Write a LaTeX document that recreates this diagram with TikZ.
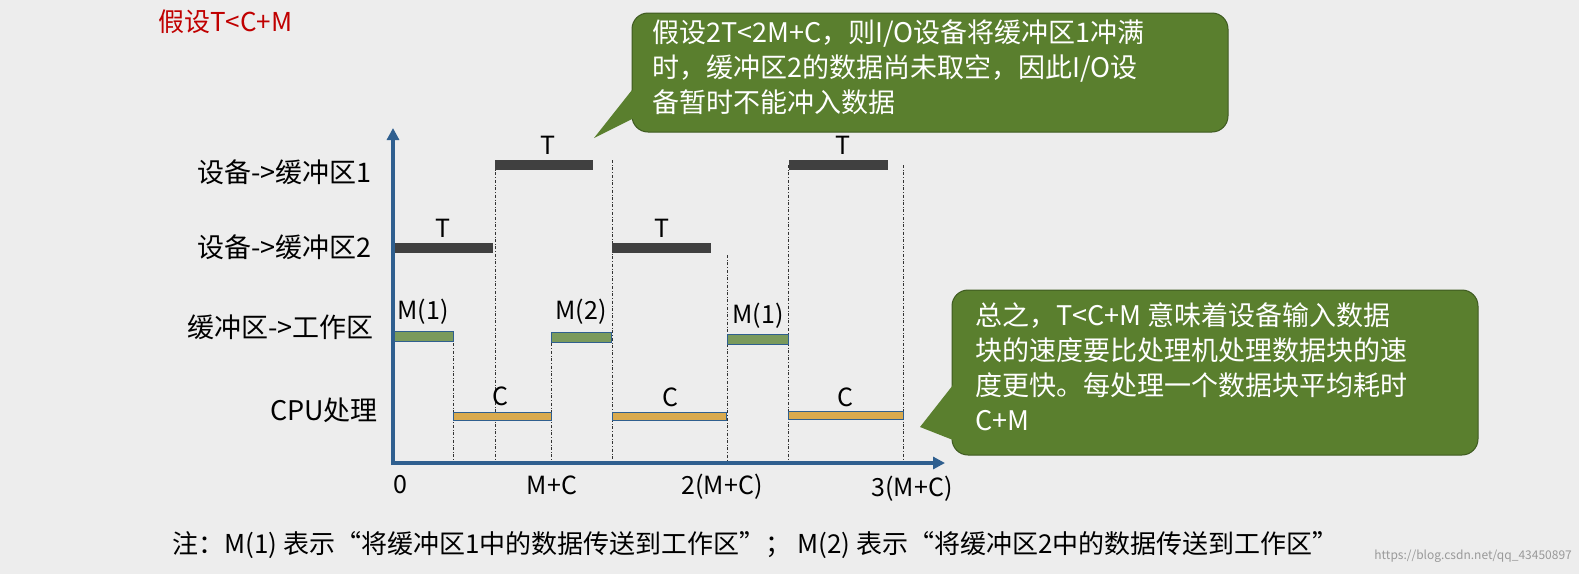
\documentclass[tikz,border=0pt]{standalone}
\usepackage{fontspec}
\setmainfont{Noto Sans CJK SC}
\usetikzlibrary{arrows.meta}
\definecolor{bg}{HTML}{EDEDED}
\definecolor{axisblue}{HTML}{2F5F8F}
\definecolor{darkbar}{HTML}{404040}
\definecolor{greenbar}{HTML}{7A9A5C}
\definecolor{orangebar}{HTML}{D9AA4E}
\definecolor{callout}{HTML}{5A7F2E}
\definecolor{calloutborder}{HTML}{3E5A20}
\definecolor{titlered}{HTML}{C00000}
\begin{document}
\begin{tikzpicture}[x=1pt,y=-1pt,
  lab/.style={font=\fontsize{27}{30}\selectfont,anchor=east,inner sep=0},
  tl/.style={font=\fontsize{25}{28}\selectfont,inner sep=0},
  dbar/.style={fill=darkbar,draw=none},
  gbar/.style={fill=greenbar,draw=axisblue,line width=0.6pt},
  obar/.style={fill=orangebar,draw=axisblue,line width=0.6pt},
  guide/.style={dash dot,line width=0.6pt,black!80},
  ctext/.style={font=\fontsize{27}{35}\selectfont,text=white,align=left,anchor=north west,inner sep=0}]
\fill[bg] (0,0) rectangle (1579,574);
\useasboundingbox (0,0) rectangle (1579,574);
\node[font=\fontsize{26}{28}\selectfont,text=titlered,anchor=west,inner sep=0] (title) at (158,22) {假设T<C+M};
% guides
\foreach \x/\y in {453/336,495/165,551/336,612/160,727/255,788/165,903/165}
  \draw[guide] (\x,\y) -- (\x,463);
% bars
\fill[dbar] (495,160) rectangle (593,170);
\fill[dbar] (789,160) rectangle (888,170);
\fill[dbar] (393,243) rectangle (493,253);
\fill[dbar] (612,243) rectangle (711,253);
\filldraw[gbar] (393,331) rectangle (453,341);
\filldraw[gbar] (551,332) rectangle (611,342);
\filldraw[gbar] (727,334) rectangle (788,344);
\filldraw[obar] (453,412) rectangle (551,420);
\filldraw[obar] (612,412) rectangle (726,420);
\filldraw[obar] (788,411) rectangle (903,419);
% bar labels
\node[tl] (t1) at (548,145) {T};
\node[tl] (t2) at (843,145) {T};
\node[tl] (t3) at (443,228) {T};
\node[tl] (t4) at (662,228) {T};
\node[tl] (m1) at (423,312) {M(1)};
\node[tl] (m2) at (581,312) {M(2)};
\node[tl] (m3) at (758,316) {M(1)};
\node[tl] (c1) at (500,396) {C};
\node[tl] (c2) at (670,397) {C};
\node[tl] (c3) at (845,397) {C};
% axes
\draw[axisblue,line width=4pt,-{Triangle[length=12pt,width=12pt]}] (393,465) -- (393,128);
\draw[axisblue,line width=4pt,-{Triangle[length=12pt,width=12pt]}] (391,463) -- (945,463);
% row labels
\node[lab] (r1) at (372,172) {设备->缓冲区1};
\node[lab] (r2) at (372,247) {设备->缓冲区2};
\node[lab] (r3) at (374,327) {缓冲区->工作区};
\node[lab] (r4) at (378,410) {CPU处理};
% x labels
\node[tl] (x0) at (400,485) {0};
\node[tl] (x1) at (552,485) {M+C};
\node[tl] (x2) at (722,487) {2(M+C)};
\node[tl] (x3) at (912,489) {3(M+C)};
% callout 1
\draw[fill=callout,draw=calloutborder,line width=1pt,rounded corners=16pt]
  (632,13) rectangle (1228,132);
\fill[callout] (632,90) -- (594,138) -- (650,110) -- cycle;
\node[ctext] (cb1) at (652,20) {假设2T<2M+C，则I/O设备将缓冲区1冲满\\时，缓冲区2的数据尚未取空，因此I/O设\\备暂时不能冲入数据};
% callout 2
\draw[fill=callout,draw=calloutborder,line width=1pt,rounded corners=16pt]
  (952,290) rectangle (1478,455);
\fill[callout] (953,385) -- (920,427) -- (953,440) -- cycle;
\node[ctext] (cb2) at (975,302) {总之，T<C+M 意味着设备输入数据\\块的速度要比处理机处理数据块的速\\度更快。每处理一个数据块平均耗时\\C+M};
% note
\node[font=\fontsize{26}{30}\selectfont,anchor=west,inner sep=0] (note) at (172,545) {注：M(1) 表示“将缓冲区1中的数据传送到工作区”； M(2) 表示“将缓冲区2中的数据传送到工作区”};
\node[font=\fontsize{12}{14}\selectfont,text=black!40,anchor=east,inner sep=0] (wm) at (1572,556) {https://blog.csdn.net/qq\_43450897};
\end{tikzpicture}
\end{document}
